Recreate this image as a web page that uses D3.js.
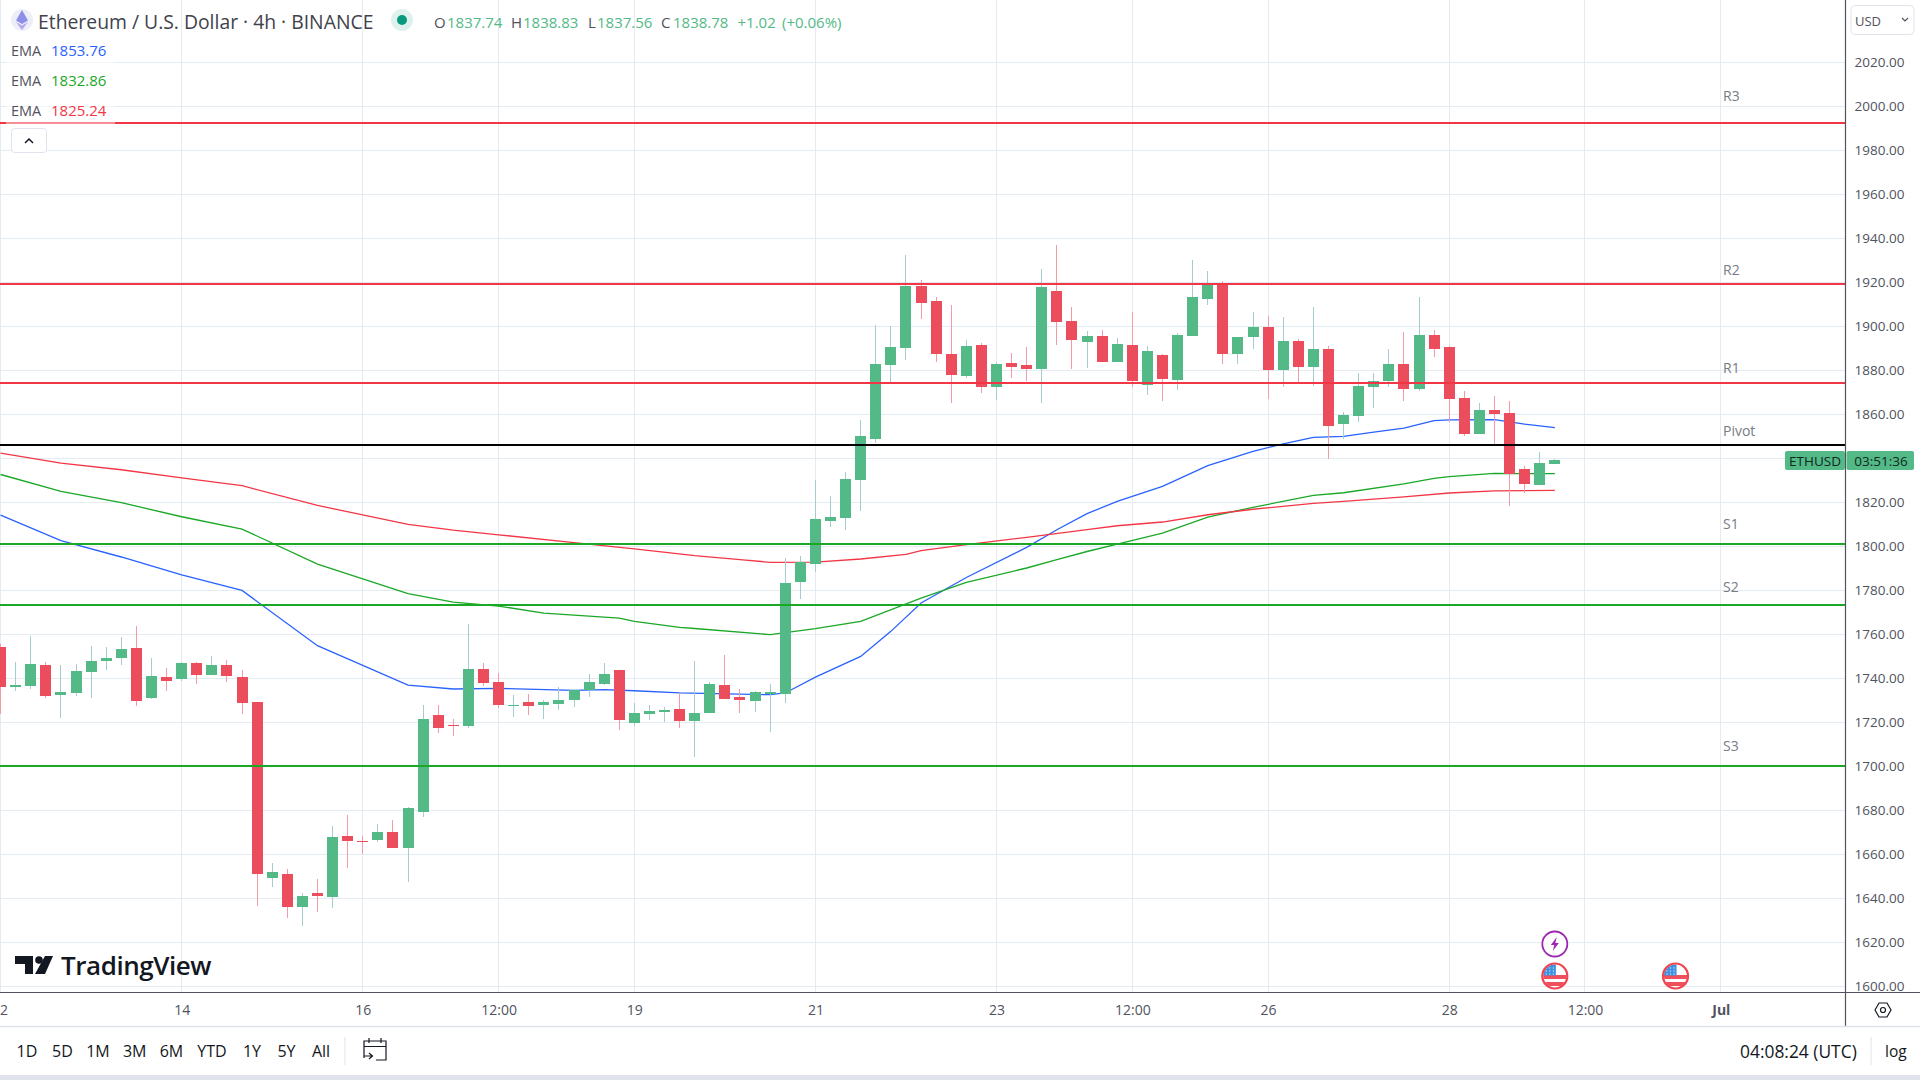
<!DOCTYPE html>
<html>
<head>
<meta charset="utf-8">
<title>ETHUSD</title>
<script src="https://cdn.jsdelivr.net/npm/d3@7"></script>
<style>
  html, body { margin: 0; padding: 0; background: #fff; overflow: hidden; }
  text { font-family: "Open Sans", sans-serif; }
</style>
</head>
<body>
<div id="chart"></div>
<script>
// 4h candles, index 0 = June 12th 00:00
let opens = [1754.2,1736.05,1736.5,1746.05,1732.4,1733.3,1742.9,1747.9,1749.2,1753.8,
  1731.05,1740.6,1739.7,1747.0,1741.5,1746.05,1740.6,1729.2,1649.2,1651.05,
  1636.05,1642.4,1640.6,1668.3,1666.05,1666.5,1670.1,1662.9,1679.2,1723.3,
  1718.8,1718.3,1744.2,1738.3,1727.4,1729.2,1727.9,1728.3,1730.1,1734.7,
  1737.4,1743.8,1719.7,1723.75,1724.65,1726,1720.6,1724.2,1736.9,1731.5,
  1729.7,1732.85,1732.85,1783.75,1791.95,1811.5,1812.85,1830.1,1848.75,1882.4,
  1890.1,1918.3,1911.5,1887.4,1877.4,1891.5,1872.4,1883.3,1882.4,1880.6,
  1916,1902.4,1892.85,1895.6,1883.75,1891.5,1873.3,1886.9,1875.6,1895.6,
  1912.4,1919.2,1887.4,1895.1,1899.65,1880.1,1893.3,1881.5,1889.65,1855.6,
  1859.2,1872.4,1875.1,1882.85,1871.5,1896,1890.6,1867.4,1851,1861.95,
  1860.6,1835.1,1827.85,1837.4];
let highs = [1755.6,1747.4,1759.2,1747.4,1746.05,1746.5,1754.7,1754.2,1758.8,1763.8,
  1749.2,1744.7,1747.4,1747.4,1750.1,1748.3,1743.8,1729.2,1656.1,1653.3,
  1642.4,1648.8,1672.9,1677.9,1668.3,1673.8,1675.6,1681.5,1727.9,1727.9,
  1721.5,1764.7,1747,1742.4,1732.4,1732.9,1730.1,1736.05,1735.1,1742,
  1747,1743.8,1728.8,1727.85,1726.9,1733.3,1747.85,1738.3,1750.6,1735.1,
  1734.2,1737.4,1794.65,1795.6,1830.1,1822.85,1833.75,1857.4,1900.6,1900.1,
  1932.4,1921,1913.3,1909.65,1893.75,1892.4,1883.75,1887.85,1890.6,1926,
  1936.95,1908.75,1897.85,1898.3,1894.65,1906.5,1891,1887.4,1896.9,1930.1,
  1925.1,1920.6,1895.1,1906.5,1904.65,1904.2,1894.2,1908.75,1891,1861,
  1878.75,1878.75,1889.65,1897.4,1913.3,1898.3,1891,1870.6,1865.1,1868.3,
  1866,1836.5,1842.85,1839.4];
let lows = [1723.8,1734.2,1735.1,1731.05,1722,1732,1731.05,1743.8,1746.05,1727.4,
  1730.6,1734.2,1738.8,1737.4,1741.5,1738.3,1723.8,1636.5,1645.1,1631.05,
  1627.4,1633.8,1635.6,1653.8,1660.1,1665.6,1662.9,1647.4,1676.95,1715.15,
  1713.8,1717.4,1736.5,1726.5,1722.4,1723.3,1721.5,1725.6,1727,1731.5,
  1737,1716.5,1718.3,1721,1720.1,1717.4,1704.2,1724.2,1730.6,1724.2,
  1724.65,1715.6,1728.75,1776,1788.3,1808.75,1807.4,1816,1846.9,1873.75,
  1884.65,1903.3,1883.75,1865.1,1876.5,1869.65,1866.5,1876.5,1875.1,1865.1,
  1891.5,1880.6,1881,1883.75,1883.75,1872.4,1868.75,1866,1871,1895.6,
  1909.65,1882.85,1882.85,1889.65,1866.9,1872.4,1874.2,1872.85,1839.65,1848.75,
  1856.5,1862.85,1872.4,1866,1870.6,1886,1856.5,1850.1,1851,1846.5,
  1818.3,1824.2,1827.85,1837.2];
let closes = [1736.05,1737,1746.5,1732,1733.8,1743.3,1747.9,1749.2,1753.3,1729.7,
  1741.05,1738.8,1747,1741.5,1746.05,1741.05,1728.8,1651.05,1652,1636.05,
  1641.05,1641.05,1667.9,1666.05,1665.6,1670.1,1662.9,1681.05,1721.5,1717.4,
  1718.3,1744.2,1737.9,1727.9,1727.9,1727.4,1729.2,1730.1,1734.7,1738.3,
  1742,1721.05,1724.2,1725.1,1725.6,1720.6,1724.2,1737.4,1730.6,1730.1,
  1733.75,1733.75,1783.3,1792.85,1812.4,1813.3,1830.6,1850.1,1882.85,1890.6,
  1918.3,1910.6,1887.4,1877.85,1891,1872.4,1882.85,1881.5,1880.6,1917.85,
  1901.9,1893.75,1895.6,1883.75,1891.95,1875.1,1888.75,1876,1896,1913.3,
  1918.75,1887.4,1895.1,1899.65,1880.1,1893.3,1881.5,1889.65,1854.65,1859.65,
  1872.85,1875.1,1882.85,1871.5,1896,1889.65,1866.9,1851,1861.95,1860.1,
  1832.85,1828.3,1837.85,1839.2];

// EMA lines, values read at the kinks
let emaBlueIdx = [0,4,8,12,16,21,27,30,33,38,40,42,45,51,52,54,57,59,61,64,68,70,72,74,77,80,83,85,87,89,91,93,95,96,99,101,103];
let emaBlue = [1814.06,1802.4,1795,1786.9,1779.8,1754.7,1736.8,1735,1735.3,1734.4,1734.7,1734.2,1733.2,1732.4,1733.2,1740.4,1749.8,1761.2,1774.1,1785.7,1799.4,1807.4,1814.7,1820.3,1827.1,1836.5,1843,1846.4,1849.4,1849.8,1851.8,1853.6,1856.95,1857.3,1857.4,1855.4,1853.76];
let emaGreenIdx = [0,4,8,12,16,21,27,30,33,36,41,42,45,46,51,54,57,61,64,68,70,72,74,77,80,83,87,89,93,95,96,99,103];
let emaGreen = [1832.5,1824.8,1819.7,1813.3,1807.7,1791.8,1778.3,1774.5,1772.7,1769.5,1767.2,1765.7,1763,1762.5,1759.7,1762.4,1765.7,1776.3,1783.5,1790,1793.8,1797.5,1800.9,1805.9,1813.1,1817.6,1823,1824.2,1828.2,1830.7,1831.5,1833,1832.86];
let emaRedIdx = [0,4,8,12,16,21,27,30,33,38,42,46,49,51,54,57,60,61,64,68,72,74,77,80,83,87,89,93,96,99,103];
let emaRed = [1842.24,1837.7,1834.66,1831,1827.4,1818.45,1809.8,1807.2,1805.1,1801.5,1798.7,1795.6,1793.8,1792.6,1792.7,1794.1,1796.2,1797.85,1800.6,1803.9,1807.4,1809.2,1810.9,1814.2,1816.7,1819.4,1820.3,1822.3,1824.1,1825.1,1825.24];

// pivot levels and where their labels sit on the price scale
let levelNames = ["R3","R2","R1","Pivot","S1","S2","S3"];
let levelPrices = [1992.3,1919.1,1874.1,1845.9,1800.9,1773.2,1700];
let levelLabelPrices = [2004.8,1925.5,1881.2,1852.4,1810.4,1781.8,1709.5];
let levelColors = ["#f23645","#f23645","#f23645","#000000","#1aa826","#1aa826","#1aa826"];

let priceTicks = d3.range(1600, 2021, 20);
let timeTickIdx = [0,12,24,33,42,54,66,75,84,96,105,114];
let timeTickLabels = ["2","14","16","12:00","19","21","23","12:00","26","28","12:00","Jul"];
let rangeButtons = ["1D","5D","1M","3M","6M","YTD","1Y","5Y","All"];
let rangeButtonX = [27,62.5,98,134.7,171.4,212,252,286.5,321];

let emaLegend = [["1853.76","#2962ff"],["1832.86","#1aa826"],["1825.24","#f23645"]];

let upColor = "#53b987", downColor = "#eb4d5c";
let upWick = "#a5cdcf", downWick = "#f59aa6";
let gridColor = "#e3ecf3", textColor = "#50535e";

let svgWidth = 1920;
let svgHeight = 1080;
let chartRight = 1845.5;
let chartBottom = 992.5;

let svg = d3.select("#chart")
    .append("svg")
    .attr("width", svgWidth)
    .attr("height", svgHeight)
    .style("display", "block");

let xScale = d3.scaleLinear().domain([0, 114]).range([0.6, 1720.8]);
let yScale = d3.scaleLinear().domain([2020, 1600]).range([62, 986]);

// Grid
let grid = svg.append("g").attr("shape-rendering", "crispEdges");
grid.selectAll(".h").data(priceTicks).enter().append("line")
    .attr("x1", 0).attr("x2", chartRight)
    .attr("y1", d => yScale(d)).attr("y2", d => yScale(d))
    .attr("stroke", gridColor);
grid.selectAll(".v").data(timeTickIdx).enter().append("line")
    .attr("y1", 0).attr("y2", chartBottom)
    .attr("x1", d => xScale(d)).attr("x2", d => xScale(d))
    .attr("stroke", gridColor);

// EMAs go under the candles
let line = d3.line().x(d => xScale(d[0])).y(d => yScale(d[1]));
[[emaBlueIdx, emaBlue, "#2962ff"], [emaGreenIdx, emaGreen, "#1aa826"], [emaRedIdx, emaRed, "#f23645"]].forEach(s => {
    svg.append("path")
        .datum(s[0].map((d, i) => [d, s[1][i]]))
        .attr("d", line)
        .attr("fill", "none")
        .attr("stroke", s[2])
        .attr("stroke-width", 1.3);
});

// Candles
let candles = opens.map((o, i) => ({i: i, o: o, h: highs[i], l: lows[i], c: closes[i]}));
let candleGroup = svg.append("g").attr("shape-rendering", "crispEdges");
candleGroup.selectAll(".wick").data(candles).enter().append("line")
    .attr("x1", d => xScale(d.i)).attr("x2", d => xScale(d.i))
    .attr("y1", d => yScale(d.h)).attr("y2", d => yScale(d.l))
    .attr("stroke", d => d.c >= d.o ? upWick : downWick);
candleGroup.selectAll(".body").data(candles).enter().append("rect")
    .attr("x", d => xScale(d.i) - 5.5)
    .attr("width", 11)
    .attr("y", d => yScale(Math.max(d.o, d.c)))
    .attr("height", d => Math.max(1, Math.abs(yScale(d.o) - yScale(d.c))))
    .attr("fill", d => d.c >= d.o ? upColor : downColor);

// Pivot levels on top of the candles
svg.selectAll(".level").data(levelPrices).enter().append("line")
    .attr("x1", 0).attr("x2", chartRight)
    .attr("y1", d => yScale(d)).attr("y2", d => yScale(d))
    .attr("stroke", (d, i) => levelColors[i])
    .attr("stroke-width", 2)
    .attr("shape-rendering", "crispEdges");
svg.selectAll(".levelLabel").data(levelNames).enter().append("text")
    .attr("x", 1723)
    .attr("y", (d, i) => yScale(levelLabelPrices[i]))
    .attr("dominant-baseline", "central")
    .attr("font-size", 14)
    .attr("fill", "#787b86")
    .text(d => d);

// Legend backing washes out what runs below it
svg.append("rect").attr("x", 6).attr("y", 38).attr("width", 109).attr("height", 86).attr("fill", "#fff").attr("opacity", 0.45);
emaLegend.forEach((e, i) => {
    let y = 50 + i * 30;
    svg.append("text").attr("x", 11).attr("y", y).attr("dominant-baseline", "central")
        .attr("font-size", 14.5).attr("fill", textColor).text("EMA");
    svg.append("text").attr("x", 51).attr("y", y).attr("dominant-baseline", "central")
        .attr("font-size", 15).attr("fill", e[1]).text(e[0]);
});
svg.append("rect").attr("x", 11.5).attr("y", 128.5).attr("width", 35).attr("height", 24).attr("rx", 3)
    .attr("fill", "#fff").attr("stroke", "#e0e3eb");
svg.append("path").attr("d", "M25 143 L29 139 L33 143").attr("fill", "none").attr("stroke", "#131722").attr("stroke-width", 1.5);

// Header
svg.append("circle").attr("cx", 22).attr("cy", 20).attr("r", 11).attr("fill", "#eceef8");
svg.append("path").attr("d", "M22 10 L28 20.5 L22 24 L16 20.5 Z").attr("fill", "#8c8fe8");
svg.append("path").attr("d", "M22 25.5 L28 22 L22 30 L16 22 Z").attr("fill", "#b3a6ee");
svg.append("text").attr("x", 38).attr("y", 21).attr("dominant-baseline", "central")
    .attr("font-size", 19.35).attr("fill", "#3f424c")
    .text("Ethereum / U.S. Dollar · 4h · BINANCE");
svg.append("circle").attr("cx", 402).attr("cy", 20).attr("r", 11).attr("fill", "#dff1ec");
svg.append("circle").attr("cx", 402).attr("cy", 20).attr("r", 5).attr("fill", "#089981");

let ohlcLabels = [["O", 434], ["H", 511], ["L", 588], ["C", 661]];
let ohlcValues = [["1837.74", 447], ["1838.83", 523], ["1837.56", 597], ["1838.78", 673], ["+1.02", 737.5], ["(+0.06%)", 782]];
ohlcLabels.forEach(d => {
    svg.append("text").attr("x", d[1]).attr("y", 22).attr("dominant-baseline", "central")
        .attr("font-size", 15).attr("fill", textColor).text(d[0]);
});
ohlcValues.forEach(d => {
    svg.append("text").attr("x", d[1]).attr("y", 22).attr("dominant-baseline", "central")
        .attr("font-size", 15).attr("fill", upColor).text(d[0]);
});

// Price axis
let rightAxis = d3.axisRight(yScale).tickValues(priceTicks).tickSize(0).tickPadding(9).tickFormat(d3.format(".2f"));
let rightG = svg.append("g").attr("transform", `translate(${chartRight}, 0)`).call(rightAxis);
rightG.select(".domain").remove();
rightG.selectAll("text").attr("font-family", "'Open Sans', sans-serif").attr("font-size", 13.5).attr("fill", textColor);
svg.append("line").attr("x1", chartRight).attr("x2", chartRight).attr("y1", 0).attr("y2", 1026)
    .attr("stroke", "#50535e").attr("stroke-width", 1.2);

// Time axis, first label is only partly in view so it sits just inside the edge
let bottomAxis = d3.axisBottom(xScale).tickValues(timeTickIdx).tickSize(0).tickPadding(13)
    .tickFormat((d, i) => timeTickLabels[i]);
let bottomG = svg.append("g").attr("transform", `translate(0, ${chartBottom})`).call(bottomAxis);
bottomG.select(".domain").remove();
bottomG.selectAll("text").attr("font-family", "'Open Sans', sans-serif").attr("font-size", 14)
    .attr("fill", textColor).attr("font-weight", (d, i) => timeTickLabels[i] == "Jul" ? 700 : 400);
bottomG.selectAll("text").filter((d, i) => i == 0).attr("x", 3);
svg.append("line").attr("x1", 0).attr("x2", svgWidth).attr("y1", chartBottom).attr("y2", chartBottom)
    .attr("stroke", "#50535e").attr("stroke-width", 1.2);

// Countdown tag
svg.append("rect").attr("x", 1785).attr("y", 451).attr("width", 60).attr("height", 19).attr("rx", 2).attr("fill", upColor);
svg.append("rect").attr("x", 1846.5).attr("y", 451).attr("width", 67.5).attr("height", 19).attr("rx", 2).attr("fill", upColor);
svg.append("text").attr("x", 1815).attr("y", 461).attr("text-anchor", "middle").attr("dominant-baseline", "central")
    .attr("font-size", 13.5).attr("fill", "#0f2a1e").text("ETHUSD");
svg.append("text").attr("x", 1881).attr("y", 461).attr("text-anchor", "middle").attr("dominant-baseline", "central")
    .attr("font-size", 13.5).attr("fill", "#0f2a1e").text("03:51:36");

// Currency box
svg.append("rect").attr("x", 1851).attr("y", 5.5).attr("width", 63).attr("height", 29).attr("rx", 4)
    .attr("fill", "#fff").attr("stroke", "#e0e3eb");
svg.append("text").attr("x", 1855).attr("y", 21).attr("dominant-baseline", "central")
    .attr("font-size", 13).attr("fill", "#50535e").text("USD");
svg.append("path").attr("d", "M1902 18 L1905 21 L1908 18").attr("fill", "none").attr("stroke", "#50535e").attr("stroke-width", 1.2);

// Event markers
let flagMarkerIdx = [103, 111];
let defs = svg.append("defs");
flagMarkerIdx.forEach((d, i) => {
    let cx = xScale(d), cy = 976;
    defs.append("clipPath").attr("id", "flag" + i).append("circle").attr("cx", cx).attr("cy", cy).attr("r", 11.5);
    let g = svg.append("g");
    let inner = g.append("g").attr("clip-path", `url(#flag${i})`);
    inner.append("rect").attr("x", cx - 12).attr("y", cy - 12).attr("width", 24).attr("height", 24).attr("fill", "#fff");
    [-1, 6].forEach(o => {
        inner.append("rect").attr("x", cx - 12).attr("y", cy + o).attr("width", 24).attr("height", 4).attr("fill", "#f0505c");
    });
    inner.append("rect").attr("x", cx - 12).attr("y", cy - 12).attr("width", 13).attr("height", 11.5).attr("fill", "#3d8fe0");
    d3.range(0, 3).forEach(a => d3.range(0, 3).forEach(b => {
        inner.append("circle").attr("cx", cx - 8.5 + a * 3.5).attr("cy", cy - 8 + b * 3).attr("r", 0.7).attr("fill", "#cfe3f7");
    }));
    g.append("circle").attr("cx", cx).attr("cy", cy).attr("r", 12.5).attr("fill", "none").attr("stroke", "#f0444f").attr("stroke-width", 2.2);
});
let boltX = xScale(103);
svg.append("circle").attr("cx", boltX).attr("cy", 944).attr("r", 12.5).attr("fill", "#fff").attr("stroke", "#9c27b0").attr("stroke-width", 1.8);
svg.append("path").attr("transform", `translate(${boltX}, 944)`)
    .attr("d", "M2 -7 L-4 1 L-0.5 1 L-2 7 L4 -1 L0.5 -1 Z").attr("fill", "#9c27b0");

// Logo
let logo = svg.append("g").attr("fill", "#131722");
logo.append("path").attr("d", "M15 956 H33 V974 H25 V964 H15 Z");
logo.append("circle").attr("cx", 39).attr("cy", 960).attr("r", 3.8);
logo.append("path").attr("d", "M45 956 H53 L45 974 H35 Z");
logo.append("text").attr("x", 61).attr("y", 965).attr("dominant-baseline", "central")
    .attr("font-size", 26).attr("font-weight", 600).attr("letter-spacing", -0.45).text("TradingView");

// Gear icon on the axis corner
svg.append("path").attr("d", "M1875 1010 L1879 1003 H1887 L1891 1010 L1887 1017 H1879 Z")
    .attr("fill", "none").attr("stroke", "#131722").attr("stroke-width", 1.2);
svg.append("circle").attr("cx", 1883).attr("cy", 1010).attr("r", 2.5).attr("fill", "none").attr("stroke", "#131722").attr("stroke-width", 1.2);

// Bottom toolbar
svg.append("line").attr("x1", 0).attr("x2", svgWidth).attr("y1", 1026.5).attr("y2", 1026.5).attr("stroke", "#e0e3eb").attr("stroke-width", 1.5);
svg.selectAll(".range").data(rangeButtons).enter().append("text")
    .attr("x", (d, i) => rangeButtonX[i])
    .attr("y", 1051)
    .attr("text-anchor", "middle")
    .attr("dominant-baseline", "central")
    .attr("font-size", 16)
    .attr("fill", "#131722")
    .text(d => d);
svg.append("line").attr("x1", 345).attr("x2", 345).attr("y1", 1037).attr("y2", 1065).attr("stroke", "#e0e3eb");
svg.append("path").attr("d", "M364 1058 V1041 H386 V1060 H376 M364 1046.5 H386 M369 1038 V1043 M381 1038 V1043 M364 1056 H372 M369 1053 L372.5 1056 L369 1059")
    .attr("fill", "none").attr("stroke", "#131722").attr("stroke-width", 1.2);
svg.append("text").attr("x", 1740).attr("y", 1051).attr("dominant-baseline", "central")
    .attr("font-size", 17.4).attr("fill", "#131722").text("04:08:24 (UTC)");
svg.append("line").attr("x1", 1871).attr("x2", 1871).attr("y1", 1037).attr("y2", 1065).attr("stroke", "#e0e3eb");
svg.append("text").attr("x", 1885).attr("y", 1051).attr("dominant-baseline", "central")
    .attr("font-size", 15.5).attr("fill", "#131722").text("log");
svg.append("rect").attr("x", 0).attr("y", 1075).attr("width", svgWidth).attr("height", 5).attr("fill", "#e0e3eb");
</script>
</body>
</html>
